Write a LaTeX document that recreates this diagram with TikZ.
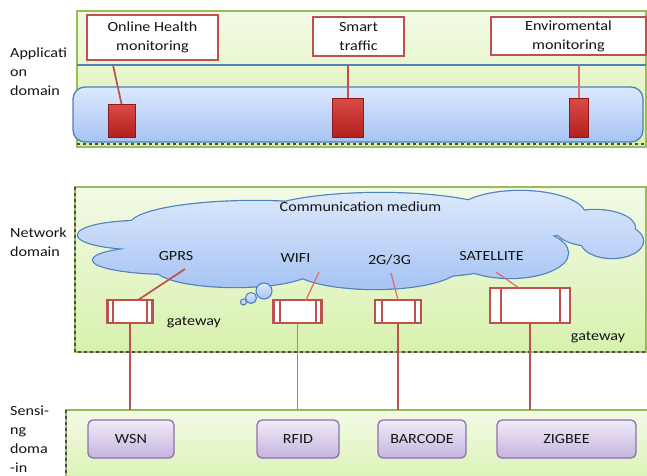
\documentclass[tikz,border=0pt]{standalone}
\usepackage{fontspec}
\setmainfont{Carlito}[FakeStretch=1.15]
\usetikzlibrary{calc}

\definecolor{frameg}{HTML}{9BBB59}
\definecolor{bgtop}{HTML}{F3FAE6}
\definecolor{bgbot}{HTML}{D8F1AE}
\definecolor{redline}{HTML}{C0504D}
\definecolor{pinkline}{HTML}{E06B68}
\definecolor{redtop}{HTML}{DA4B47}
\definecolor{redbot}{HTML}{B2201D}
\definecolor{blueline}{HTML}{4F81BD}
\definecolor{bluetop}{HTML}{DDE9FC}
\definecolor{bluebot}{HTML}{A6C3F3}
\definecolor{purline}{HTML}{8A72AD}
\definecolor{purtop}{HTML}{F0EBF8}
\definecolor{purbot}{HTML}{C6B4DE}
\definecolor{txt}{HTML}{141414}

\tikzset{
  every node/.append style={text=txt, font=\fontsize{14}{19}\selectfont},
  domainbg/.style={draw=frameg, line width=1.4pt, top color=bgtop, bottom color=bgbot,
    inner sep=0pt, outer sep=0pt, anchor=north west},
  dashedge/.style={draw=black!70, line width=1.4pt, dash pattern=on 3pt off 3pt},
  lbl/.style={align=left, anchor=west, inner sep=0pt, font=\fontsize{14}{19}\selectfont},
  appbox/.style={draw=redline, line width=2.6pt, fill=white, align=center,
    inner sep=0pt, outer sep=0pt},
  redblock/.style={draw=redbot!80!black, line width=0.6pt, top color=redtop, bottom color=redbot,
    inner sep=0pt, outer sep=0pt},
  gatebox/.style={draw=redline, line width=2.4pt, fill=white, inner sep=0pt, outer sep=0pt,
    path picture={\draw[redline, line width=2pt]
      ([xshift=#1]path picture bounding box.north west) -- ([xshift=#1]path picture bounding box.south west)
      ([xshift=-#1]path picture bounding box.north east) -- ([xshift=-#1]path picture bounding box.south east);}},
  sensebox/.style={draw=purline, line width=1.3pt, rounded corners=5pt, top color=purtop,
    bottom color=purbot, inner sep=0pt, outer sep=0pt},
  link/.style={draw=redline, line width=1.7pt},
  linkthin/.style={draw=pinkline, line width=1.2pt},
}

\begin{document}
\begin{tikzpicture}[x=1pt, y=-1pt]
\useasboundingbox (0,0) rectangle (647,475);

% ---------- domain panels ----------
\node[domainbg, minimum width=569pt, minimum height=136pt] (appdom) at (77,11) {};
\node[domainbg, minimum width=571pt, minimum height=165pt] (netdom) at (75,187) {};
\node[domainbg, minimum width=600pt, minimum height=80pt] (sensdom) at (66,410) {};
\draw[dashedge] ([yshift=3pt]appdom.south west) -- ([yshift=3pt]appdom.south east);
\draw[dashedge] (netdom.north west) -- (netdom.south west) -- (netdom.south east);
\draw[dashedge] (sensdom.north west) -- (sensdom.south west);

% ---------- left labels ----------
\node[lbl] (applbl) at (10,72) {Applicati\\on\\domain};
\node[lbl] (netlbl) at (10,242) {Network\\domain};
\node[lbl] (senlbl) at (10,439.5) {Sensi-\\ng\\doma\\-in};

% ---------- application domain ----------
\coordinate (sepL) at (77,65);
\coordinate (sepR) at (646,65);
\draw[blueline, line width=1.3pt] (sepL) -- (sepR);

\node[draw=blueline, line width=1.3pt, rounded corners=12pt, top color=bluetop, bottom color=bluebot,
  minimum width=570pt, minimum height=55pt, inner sep=0pt, outer sep=0pt] (bus) at (358,114.5) {};

\node[appbox, minimum width=131pt, minimum height=45pt] (oh) at (152.5,37.5) {Online Health\\monitoring};
\node[appbox, minimum width=91pt, minimum height=39pt] (st) at (358.5,36.5) {Smart\\traffic};
\node[appbox, minimum width=155pt, minimum height=38pt] (env) at (568.5,36) {Enviromental\\monitoring};

\node[redblock, minimum width=27pt, minimum height=33pt] (r1) at (121.5,120.5) {};
\node[redblock, minimum width=31pt, minimum height=39pt] (r2) at (348,117.5) {};
\node[redblock, minimum width=19pt, minimum height=39pt] (r3) at (579,117.5) {};

\draw[link] ([xshift=-8.5pt]r1.north |- sepL) -- (r1.north);
\draw[link, line width=1.3pt] (r2.north |- sepL) -- (r2.north);
\draw[linkthin] (r3.north |- sepL) -- (r3.north);

% ---------- network domain: cloud ----------
\def\lobes{140/235/62/14, 175/260/82/14, 255/225/125/24, 380/216/120/23, 520/215/65/24,
  595/228/40/18, 612/241/31/17, 510/253/58/25, 375/266/85/23, 235/268/80/19, 360/245/190/35}
\path[draw=blueline, line width=2.4pt]
  foreach \cx/\cy/\rx/\ry in \lobes {(\cx,\cy) ellipse [x radius=\rx, y radius=\ry]};
\shade[top color=bluetop, bottom color=bluebot]
  foreach \cx/\cy/\rx/\ry in \lobes {(\cx,\cy) ellipse [x radius=\rx, y radius=\ry]};
\foreach \bx/\by/\br in {264/291/8, 251/298/5.5, 243.5/302/3}
  \draw[blueline, line width=1.1pt, top color=bluetop, bottom color=bluebot] (\bx,\by) circle [radius=\br];

\node (cm) at (360.5,207) {Communication medium};
\node (gprs) at (176,256) {GPRS};
\node (wifi) at (295.5,258) {WIFI};
\node (g23) at (389.5,260) {2G/3G};
\node (sat) at (491.5,256) {SATELLITE};

% ---------- gateways ----------
\node[gatebox=5.5pt, minimum width=45pt, minimum height=23pt] (g1) at (130,311.5) {};
\node[gatebox=6pt, minimum width=48pt, minimum height=23pt] (g2) at (297.5,311.5) {};
\node[gatebox=6.5pt, minimum width=46pt, minimum height=23pt] (g3) at (398,311.5) {};
\node[gatebox=10.5pt, minimum width=80pt, minimum height=35pt] (g4) at (530,305.5) {};

\node (gw1) at (194,322) {gateway};
\node (gw2) at (598,337) {gateway};

\coordinate (gprs-end) at (185,269);
\coordinate (wifi-end) at (319,272);
\coordinate (g23-end) at (391,273);
\coordinate (sat-end) at (496,272);
\draw[link] (gprs-end) -- ([xshift=8pt]g1.north);
\draw[linkthin] (wifi-end) -- ([xshift=8.5pt]g2.north);
\draw[linkthin] (g23-end) -- (g3.north);
\draw[linkthin] (sat-end) -- ([xshift=-11pt]g4.north);

% ---------- sensing domain ----------
\node[sensebox, minimum width=86pt, minimum height=38pt] (wsn) at (131,439) {WSN};
\node[sensebox, minimum width=82pt, minimum height=38pt] (rfid) at (298,439) {RFID};
\node[sensebox, minimum width=88pt, minimum height=38pt] (bar) at (422,439) {BARCODE};
\node[sensebox, minimum width=139pt, minimum height=38pt] (zig) at (566.5,439) {ZIGBEE};

\draw[link] (g1.south) -- (g1.south |- sensdom.north);
\draw[linkthin] (g2.south) -- (g2.south |- sensdom.north);
\draw[link] (g3.south) -- (g3.south |- sensdom.north);
\draw[link] (g4.south) -- (g4.south |- sensdom.north);
\end{tikzpicture}
\end{document}
